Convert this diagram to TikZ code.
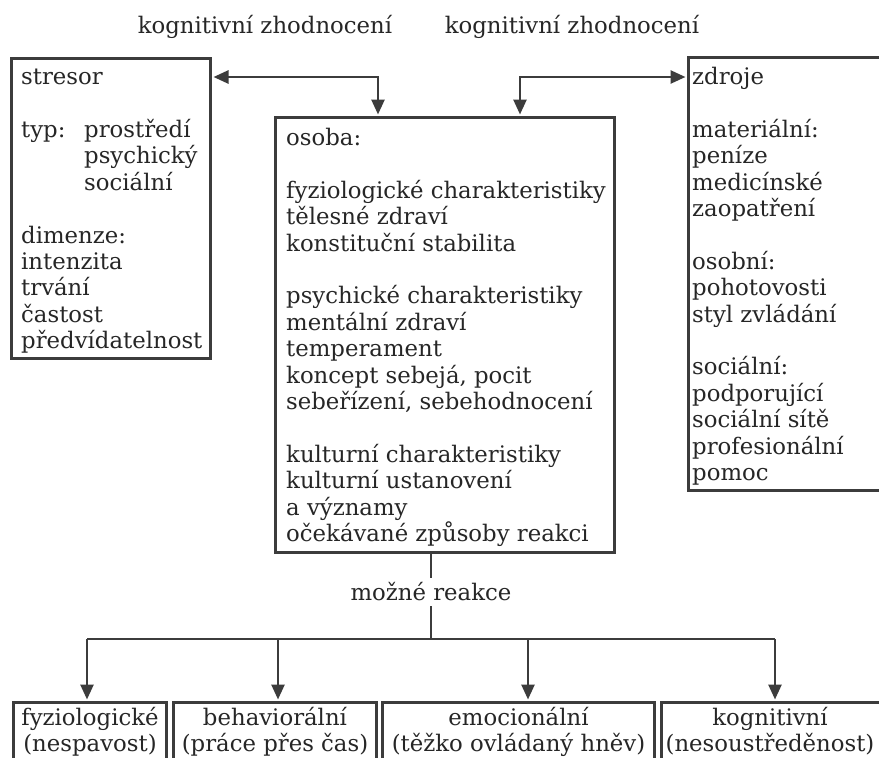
\documentclass[tikz,border=0pt]{standalone}
\usepackage{fontspec}
\setmainfont{DejaVu Serif}
\usetikzlibrary{arrows.meta,calc}
\definecolor{linec}{HTML}{3C3C3C}
\definecolor{textc}{HTML}{262626}
\newcommand{\mainsize}{\fontsize{22.8pt}{26.4pt}\selectfont}
\begin{document}
\begin{tikzpicture}[x=1pt,y=-1pt,
  box/.style={draw=linec, line width=3pt, rectangle, inner sep=0pt, anchor=north west},
  txt/.style={anchor=north west, align=left, inner sep=0pt, font=\mainsize, text=textc},
  ctxt/.style={anchor=north, align=center, inner sep=0pt, font=\mainsize, text=textc},
  lbl/.style={inner sep=0pt, font=\mainsize, text=textc},
  conn/.style={draw=linec, line width=2.6pt},
  tipA/.style={-{Triangle[length=15pt,width=13pt]}},
  tipB/.style={{Triangle[length=15pt,width=13pt]}-{Triangle[length=15pt,width=13pt]}}]
\useasboundingbox (0,0) rectangle (879,758);
\clip (0,0) rectangle (879,758);
\fill[white] (0,0) rectangle (879,758);

% top labels
\node[lbl, anchor=base] (kz1) at (265,33) {kognitivní zhodnocení};
\node[lbl, anchor=base] (kz2) at (572,33) {kognitivní zhodnocení};

% boxes
\node[box, minimum width=199pt, minimum height=300pt] (stresor) at (10,57) {};
\node[box, minimum width=339pt, minimum height=435pt] (osoba) at (274,116) {};
\node[box, minimum width=200pt, minimum height=433pt] (zdroje) at (687,56) {};

\node[txt] (tstresor) at ($(stresor.north west)+(11,12)$) {stresor\\[26.4pt]
\makebox[63pt][l]{typ:}prostředí\\
\hspace*{63pt}psychický\\
\hspace*{63pt}sociální\\[26.4pt]
dimenze:\\
intenzita\\
trvání\\
častost\\
předvídatelnost};

\node[txt] (tosoba) at ($(osoba.north west)+(12,12)$) {osoba:\\[26.4pt]
fyziologické charakteristiky\\
tělesné zdraví\\
konstituční stabilita\\[26.4pt]
psychické charakteristiky\\
mentální zdraví\\
temperament\\
koncept sebejá, pocit\\
sebeřízení, sebehodnocení\\[26.4pt]
kulturní charakteristiky\\
kulturní ustanovení\\
a významy\\
očekávané způsoby reakci};

\node[txt] (tzdroje) at ($(zdroje.north west)+(5,11)$) {zdroje\\[26.4pt]
materiální:\\
peníze\\
medicínské\\
zaopatření\\[26.4pt]
osobní:\\
pohotovosti\\
styl zvládání\\[26.4pt]
sociální:\\
podporující\\
sociální sítě\\
profesionální\\
pomoc};

% top connectors
\draw[conn, tipB] ($(stresor.north east)+(1.5,20)$) -| ($(osoba.north west)+(104,-1.5)$);
\draw[conn, tipB] ($(osoba.north west)+(246,-1.5)$) |- ($(zdroje.north west)+(-1.5,21)$);

% bottom boxes
\node[box, minimum width=153pt, minimum height=90pt] (r1) at (12,701) {};
\node[box, minimum width=203pt, minimum height=90pt] (r2) at (172,701) {};
\node[box, minimum width=272pt, minimum height=90pt] (r3) at (381,701) {};
\node[box, minimum width=225pt, minimum height=90pt] (r4) at (660,701) {};

\node[ctxt] (t1) at ($(r1.north)+(0,6)$) {fyziologické\\(nespavost)};
\node[ctxt] (t2) at ($(r2.north)+(0,6)$) {behaviorální\\(práce přes čas)};
\node[ctxt] (t3) at ($(r3.north)+(0,6)$) {emocionální\\(těžko ovládaný hněv)};
\node[ctxt] (t4) at ($(r4.north)+(-4,6)$) {kognitivní\\(nesoustředěnost)};

% reactions
\node[lbl, inner sep=5pt] (reakce) at (431,592) {možné reakce};
\coordinate (hub) at (431,639);
\coordinate (a1) at ($(r1.north west)+(75,-1.5)$);
\coordinate (a2) at ($(r2.north west)+(106,-1.5)$);
\coordinate (a3) at ($(r3.north west)+(147,-1.5)$);
\coordinate (a4) at ($(r4.north west)+(115,-1.5)$);

\draw[conn] (osoba.south -| hub) -- (reakce.north);
\draw[conn] (reakce.south) -- (hub);
\draw[conn] (hub -| a1) -- (hub -| a4);
\draw[conn, tipA] (hub -| a1) -- (a1);
\draw[conn, tipA] (hub -| a2) -- (a2);
\draw[conn, tipA] (hub -| a3) -- (a3);
\draw[conn, tipA] (hub -| a4) -- (a4);
\end{tikzpicture}
\end{document}
